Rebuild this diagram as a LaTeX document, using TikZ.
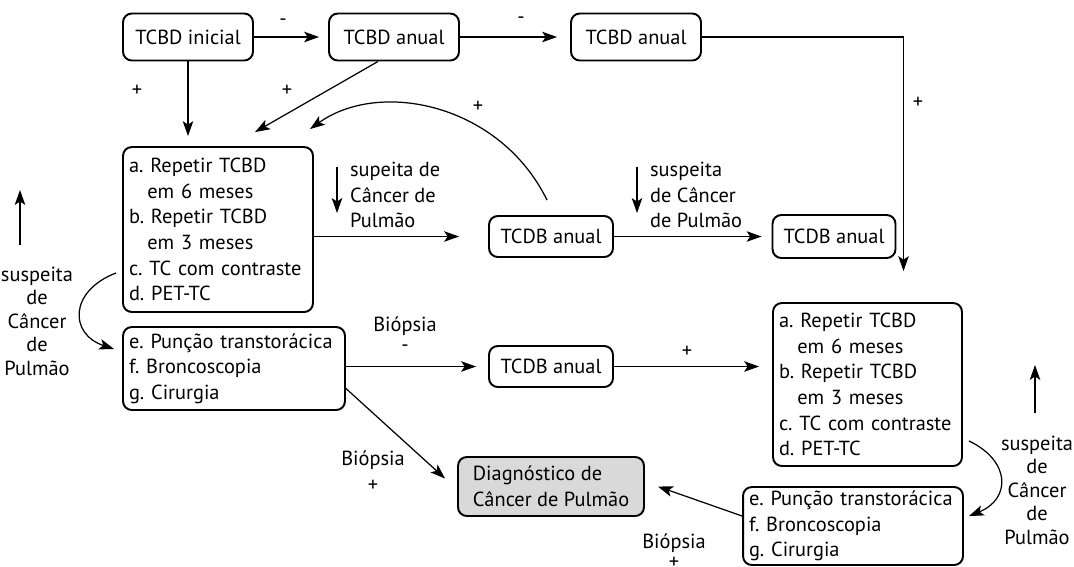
\documentclass[tikz,border=0pt]{standalone}
\usepackage{fontspec}
\setmainfont{PT Sans}
\frenchspacing
\usetikzlibrary{arrows.meta, calc, positioning}

\begin{document}
\begin{tikzpicture}[x=0.02cm, y=-0.02cm,
  every node/.style={font=\fontsize{11.6}{14.6}\selectfont},
  caixa/.style={draw, line width=1.1pt, rounded corners=5pt, inner sep=0pt},
  lista/.style={caixa, align=left, inner xsep=0.12cm},
  seta/.style={line width=0.7pt, -{Stealth[length=8.5pt,width=6pt,inset=2pt]}},
  rotulo/.style={inner sep=1pt, align=center},
  pilha/.style={rotulo, font=\fontsize{11.6}{13.4}\selectfont}]
\useasboundingbox (0,0) rectangle (1074,566);

%linha de cima
\node[caixa, minimum width=2.6cm, minimum height=0.94cm] (inicial) at (188,37) {TCBD inicial};
\node[caixa, minimum width=2.6cm, minimum height=0.94cm] (anual1) at (394,37) {TCBD anual};
\node[caixa, minimum width=2.6cm, minimum height=0.94cm] (anual2) at (636,37) {TCBD anual};

%caixas da esquerda
\node[lista, text width=3.56cm, minimum height=3.3cm] (opcoesE) at (218,229.5) {a. Repetir TCBD\\\hspace*{0.9em}em 6 meses\\b. Repetir TCBD\\\hspace*{0.9em}em 3 meses\\c. TC com contraste\\d. PET-TC};
\node[lista, text width=4.2cm, minimum height=1.66cm] (invasivoE) at (234,368.5) {e. Punção transtorácica\\f. Broncoscopia\\g. Cirurgia};

%meio
\node[caixa, minimum width=2.48cm, minimum height=0.82cm] (anualM) at (551,236.5) {TCDB anual};
\node[caixa, minimum width=2.46cm, minimum height=0.86cm] (anualD) at (834,236.5) {TCDB anual};
\node[caixa, minimum width=2.48cm, minimum height=0.82cm] (anualB) at (551,366.5) {TCDB anual};
\node[caixa, fill=gray!30, minimum width=3.72cm, minimum height=1.18cm, align=left] (diag) at (551,486.5) {Diagnóstico de\\Câncer de Pulmão};

%caixas da direita
\node[lista, text width=3.54cm, minimum height=3.26cm] (opcoesD) at (867.5,384.5) {a. Repetir TCBD\\\hspace*{0.9em}em 6 meses\\b. Repetir TCBD\\\hspace*{0.9em}em 3 meses\\c. TC com contraste\\d. PET-TC};
\node[lista, text width=4.16cm, minimum height=1.56cm] (invasivoD) at (853,526) {e. Punção transtorácica\\f. Broncoscopia\\g. Cirurgia};

%rotulos
\node[rotulo] (menos1) at (283,22) {-};
\node[rotulo] (menos2) at (521,20) {-};
\node[rotulo] (mais1) at (137,91) {+};
\node[rotulo] (mais2) at (287,91) {+};
\node[rotulo] (mais3) at (478,107) {+};
\node[rotulo] (mais4) at (918,103) {+};
\node[rotulo] (mais5) at (687,352) {+};
\node[rotulo, align=left, anchor=west] (susp1) at (348,195) {supeita de\\Câncer de\\Pulmão};
\node[rotulo, align=left, anchor=west] (susp2) at (648,195) {suspeita\\de Câncer\\de Pulmão};
\node[pilha] (suspE) at (37,321) {suspeita\\de\\Câncer\\de\\Pulmão};
\node[pilha] (suspD) at (1037,490) {suspeita\\de\\Câncer\\de\\Pulmão};
\node[rotulo] (biop1) at (405,326) {Biópsia};
\node[rotulo] (biopm) at (405,348) {-};
\node[rotulo] (biop2) at (373,460) {Biópsia};
\node[rotulo] (biopp2) at (373,486) {+};
\node[rotulo] (biop3) at (674,543) {Biópsia};
\node[rotulo] (biopp3) at (674,563) {+};

%setas soltas
\coordinate (s1a) at (337,167);
\coordinate (s1b) at (337,213);
\coordinate (s2a) at (637,167);
\coordinate (s2b) at (637,213);
\coordinate (sEa) at (20,245);
\coordinate (sEb) at (20,190);
\coordinate (sDa) at (1035,413);
\coordinate (sDb) at (1035,365);
\draw[seta] (s1a) -- (s1b);
\draw[seta] (s2a) -- (s2b);
\draw[seta] (sEa) -- (sEb);
\draw[seta] (sDa) -- (sDb);

%ligacoes
\draw[seta, shorten >=0.18cm] (inicial) -- (anual1);
\draw[seta, shorten >=0.26cm] (anual1) -- (anual2);
\draw[seta, shorten >=0.2cm] (inicial) -- (inicial |- opcoesE.north);
\draw[seta] ($(anual1.south)+(-16,0)$) -- ($(opcoesE.north)+(37,-14)$);
\draw[seta] ($(anualM.north)+(-4,-15)$) .. controls ($(anualM.north)+(-51,-111)$) and ($(opcoesE.north)+(162,-67)$) .. ($(opcoesE.north)+(92,-17)$);
\draw[seta] (anual2.east) -| ($(opcoesD.north)+(36,-31)$);
\draw[seta, shorten >=0.58cm] (opcoesE.east |- anualM) -- (anualM);
\draw[seta, shorten >=0.2cm] (anualM) -- (anualD);
\draw[seta, shorten >=0.24cm] (invasivoE.east |- anualB) -- (anualB);
\draw[seta] ($(invasivoE.east)+(0,20)$) -- ($(diag.west)+(-12,-8)$);
\draw[seta, shorten >=0.26cm] (anualB) -- (opcoesD.west |- anualB);
\draw[seta] ($(invasivoD.west)+(0,-10)$) -- ($(diag.east)+(13,0)$);
\draw[seta] ($(opcoesE.south west)+(-6,-40)$) .. controls ($(opcoesE.south west)+(-53,-22)$) and ($(invasivoE.north west)+(-53,8)$) .. ($(invasivoE.north west)+(-8,23)$);
\draw[seta] ($(opcoesD.south east)+(6,-26)$) .. controls ($(opcoesD.south east)+(48,-6)$) and ($(invasivoD.north east)+(47,13)$) .. ($(invasivoD.north east)+(5,30)$);
\end{tikzpicture}
\end{document}
